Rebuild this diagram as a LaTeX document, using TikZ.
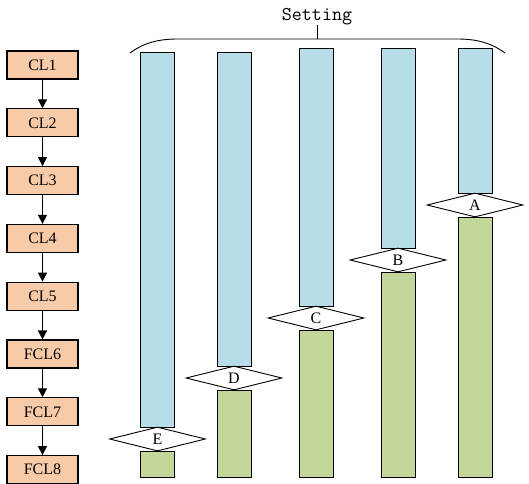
\documentclass[tikz,border=0pt]{standalone}
\usepackage{fontspec}
\setmainfont{Liberation Serif}
\usepackage{tikz}
\usetikzlibrary{positioning,arrows.meta,shapes.geometric}

\definecolor{layerfill}{RGB}{248,203,168}
\definecolor{setblue}{RGB}{183,221,232}
\definecolor{setgreen}{RGB}{196,215,155}

\begin{document}
\begin{tikzpicture}[x=1pt, y=-1pt, >={Triangle[length=9pt,width=9pt]},
  every node/.style={font=\fontsize{16}{18}\selectfont},
  layer/.style={draw, line width=1.1pt, fill=layerfill, minimum width=71pt, minimum height=28pt, inner sep=0pt},
  bluebar/.style={draw, line width=1pt, fill=setblue, minimum width=34pt, inner sep=0pt},
  greenbar/.style={draw, line width=1pt, fill=setgreen, minimum width=34pt, inner sep=0pt},
  cut/.style={draw, diamond, aspect=4, fill=white, line width=0.9pt, minimum width=96pt, minimum height=24pt, inner sep=0pt},
  node distance=28.7pt]
  \useasboundingbox (0,0) rectangle (529,483);

  % layer chain
  \node[layer] (cl1) at (42.5,65) {CL1};
  \node[layer, below=of cl1] (cl2) {CL2};
  \node[layer, below=of cl2] (cl3) {CL3};
  \node[layer, below=of cl3] (cl4) {CL4};
  \node[layer, below=of cl4] (cl5) {CL5};
  \node[layer, below=of cl5] (fcl6) {FCL6};
  \node[layer, below=of fcl6] (fcl7) {FCL7};
  \node[layer, below=of fcl7] (fcl8) {FCL8};
  \foreach \a/\b in {cl1/cl2, cl2/cl3, cl3/cl4, cl4/cl5, cl5/fcl6, fcl6/fcl7, fcl7/fcl8}
    \draw[->, line width=1.4pt] (\a) -- (\b);

  % split settings: x / top of blue / diamond centre / label
  \foreach \x/\top/\mid/\lab in {157.5/52/439/E, 234/52/378/D, 316/48/318/C, 398/48/260/B, 475/48/205/A} {
    \pgfmathsetmacro{\bh}{\mid-12-\top}
    \pgfmathsetmacro{\gh}{477-\mid-12}
    \node[bluebar, minimum height=\bh pt] (top\lab) at (\x,{(\top+\mid-12)/2}) {};
    \node[greenbar, minimum height=\gh pt] (bot\lab) at (\x,{(\mid+12+477)/2}) {};
    \node[cut] (cut\lab) at (\x,\mid) {\lab};
  }

  % brace over the settings
  \coordinate (braceL) at (130,53);
  \coordinate (braceR) at (505,53);
  \coordinate (braceM) at (317,39);
  \node[font=\fontsize{19.5}{22}\selectfont\ttfamily, anchor=base] (setting) at (317,20) {Setting};
  \draw[line width=0.9pt] (braceL) .. controls (145,42) and (160,39) .. (178,39) -- (457,39)
    .. controls (475,39) and (490,42) .. (braceR);
  \draw[line width=0.9pt] (braceM) -- (317,25);
\end{tikzpicture}
\end{document}
